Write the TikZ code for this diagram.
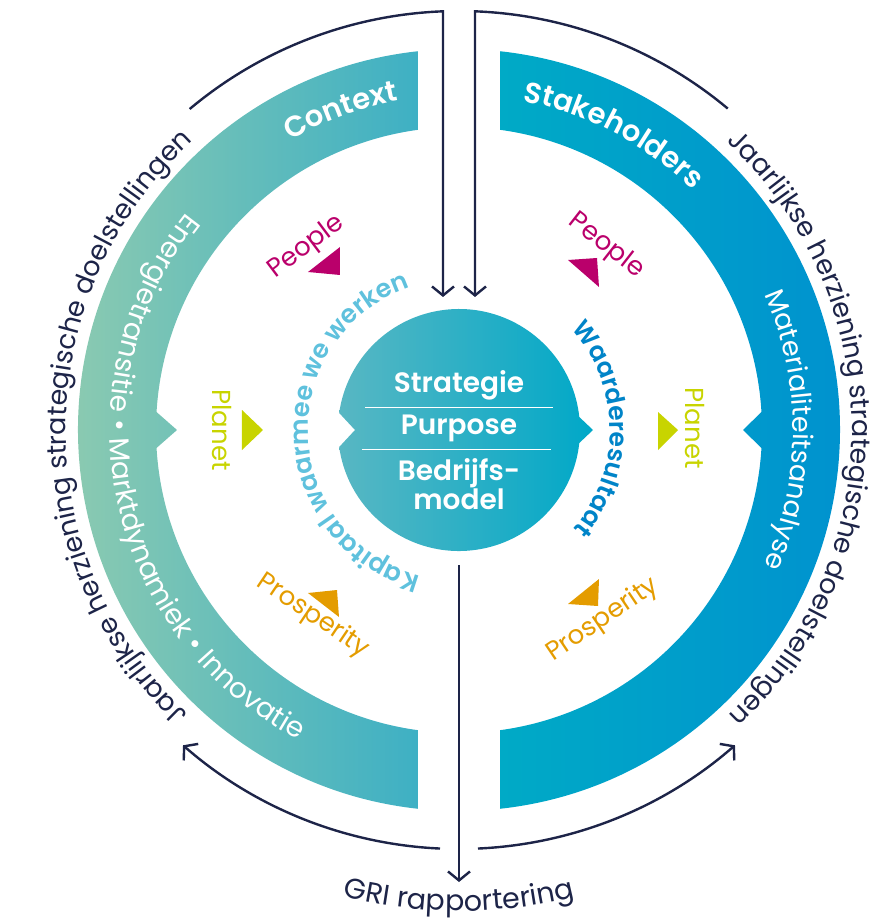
\documentclass[tikz,border=0pt]{standalone}
\usepackage{fontspec}
\setmainfont{Poppins}[BoldFont={Poppins SemiBold}]
\usetikzlibrary{arrows.meta,decorations.text}
\definecolor{navy}{RGB}{29,36,72}
\definecolor{pmag}{RGB}{186,0,107}
\definecolor{plgreen}{RGB}{200,212,0}
\definecolor{prorange}{RGB}{228,156,0}
\definecolor{kapblue}{RGB}{95,193,221}
\definecolor{waardeblue}{RGB}{0,132,200}
\definecolor{lbL}{RGB}{142,203,176}
\definecolor{lbR}{RGB}{62,176,196}
\definecolor{rbL}{RGB}{0,170,198}
\definecolor{rbR}{RGB}{0,145,207}
\definecolor{ccL}{RGB}{88,183,195}
\definecolor{ccR}{RGB}{0,168,200}
\begin{document}
\begin{tikzpicture}[x=1pt,y=1pt,
  conn/.style={draw=navy, line width=2.4pt},
  tipv/.style={-{Straight Barb[length=9pt,width=22pt]}},
  lbl/.style={font=\fontsize{26}{30}\selectfont, inner sep=0pt},
  ctext/.style={font=\fontsize{28}{32}\selectfont\bfseries, text=white, inner sep=0pt}
]
\useasboundingbox (-459,-491) rectangle (424,430);

% left band
\shade[left color=lbL, right color=lbR]
 (96.18:381pt) arc[start angle=96.18, end angle=263.82, radius=381pt]
 -- (262.22:303pt) arc[start angle=262.22, end angle=183.4, radius=303pt]
 -- (-282,0) -- (176.6:303pt) arc[start angle=176.6, end angle=97.78, radius=303pt] -- cycle;
% right band
\shade[left color=rbL, right color=rbR]
 (83.82:381pt) arc[start angle=83.82, end angle=-83.82, radius=381pt]
 -- (-82.22:303pt) arc[start angle=-82.22, end angle=-3.4, radius=303pt]
 -- (284,0) -- (3.4:303pt) arc[start angle=3.4, end angle=82.22, radius=303pt] -- cycle;
% central circle
\shade[left color=ccL, right color=ccR]
 (6.17:121pt) arc[start angle=6.17, end angle=171.92, radius=121pt]
 -- (-104,0) -- (188.08:121pt) arc[start angle=188.08, end angle=353.83, radius=121pt] -- (134,0) -- cycle;

% central text
\node[ctext] (strat) at (0,45) {Strategie};
\node[ctext] (purp) at (0,2) {Purpose};
\node[ctext, align=center, font=\fontsize{28}{27}\selectfont\bfseries] (bedr) at (0,-54) {Bedrijfs-\\model};
\draw[white, line width=0.8pt] (-94,23) -- (94,23);
\draw[white, line width=0.8pt] (-97,-19) -- (92,-19);

% connectors
\coordinate (tlA) at (130:419pt);
\coordinate (tlC) at (-16,133);
\draw[conn, tipv] (tlA) arc[start angle=130, end angle=92.19, radius=419pt] -- (tlC);
\coordinate (trA) at (50.1:419pt);
\coordinate (trC) at (16,133);
\draw[conn, tipv] (trA) arc[start angle=50.1, end angle=87.81, radius=419pt] -- (trC);
\coordinate (blA) at (267.4:419pt);
\draw[conn, tipv] (blA) arc[start angle=267.4, end angle=228.8, radius=419pt];
\coordinate (brA) at (272.6:419pt);
\draw[conn, tipv] (brA) arc[start angle=272.6, end angle=311.2, radius=419pt];
\coordinate (griA) at (0,-135);
\coordinate (griB) at (0,-452);
\draw[conn, tipv] (griA) -- (griB);

% triangles
\fill[pmag] (-151,158) -- (-119,183) -- (-119,155) -- cycle;
\fill[pmag] (109,170) -- (138,172) -- (140,143) -- cycle;
\fill[plgreen] (-217,20) -- (-196,0) -- (-217,-20) -- cycle;
\fill[plgreen] (199,18) -- (219,0) -- (199,-20) -- cycle;
\fill[prorange] (-151,-163) -- (-122,-160) -- (-120,-187) -- cycle;
\fill[prorange] (109,-174) -- (140,-149) -- (139,-176) -- cycle;

% labels
\node[lbl, text=pmag, rotate=37] (peopleL) at (-152,183) {People};
\node[lbl, text=pmag, rotate=-38] (peopleR) at (147,184) {People};
\node[lbl, text=plgreen, rotate=-90] (planetL) at (-237,0) {Planet};
\node[lbl, text=plgreen, rotate=-90] (planetR) at (236,2) {Planet};
\node[lbl, text=prorange, rotate=-34] (prospL) at (-146,-186) {Prosperity};
\node[lbl, text=prorange, rotate=34] (prospR) at (144,-190) {Prosperity};

% curved texts
\path[decorate, decoration={text along path, text align=center,
  text={|\fontsize{27}{30}\selectfont\color{navy}|Jaarlijkse herziening strategische doelstellingen}}]
  (260:393pt) arc[start angle=260, end angle=99, radius=393pt];
\path[decorate, decoration={text along path, text align=center,
  text={|\fontsize{27}{30}\selectfont\color{navy}|Jaarlijkse herziening strategische doelstellingen}}]
  (80.5:393pt) arc[start angle=80.5, end angle=-80, radius=393pt];
\path[decorate, decoration={text along path, text align=center,
  text={|\fontsize{28.5}{32}\selectfont\color{navy}|GRI rapportering}}]
  (240:481pt) arc[start angle=240, end angle=300, radius=481pt];
\path[decorate, decoration={text along path, text align=center,
  text={|\fontsize{29}{32}\selectfont\bfseries\color{white}|Context}}]
  (140:335pt) arc[start angle=140, end angle=80.6, radius=335pt];
\path[decorate, decoration={text along path, text align=center,
  text={|\fontsize{29}{32}\selectfont\bfseries\color{white}|Stakeholders}}]
  (92.4:335pt) arc[start angle=92.4, end angle=32.4, radius=335pt];
\path[decorate, decoration={text along path, text align=center,
  text={|\fontsize{28}{30}\selectfont\color{white}|Energietransitie • Marktdynamiek • Innovatie}}]
  (120:349pt) arc[start angle=120, end angle=264, radius=349pt];
\path[decorate, decoration={text along path, text align=center,
  text={|\fontsize{27}{30}\selectfont\color{white}|Materialiteitsanalyse}}]
  (45:334pt) arc[start angle=45, end angle=-45, radius=334pt];
\path[decorate, decoration={text along path, text align=center,
  text={|\fontsize{25.5}{30}\selectfont\bfseries\color{kapblue}|Kapitaal waarmee we werken}}]
  (290:151pt) arc[start angle=290, end angle=74, radius=151pt];
\path[decorate, decoration={text along path, text align=center,
  text={|\fontsize{25}{30}\selectfont\bfseries\color{waardeblue}|Waarderesultaat}}]
  (70.5:151pt) arc[start angle=70.5, end angle=-69.5, radius=151pt];
\end{tikzpicture}
\end{document}
